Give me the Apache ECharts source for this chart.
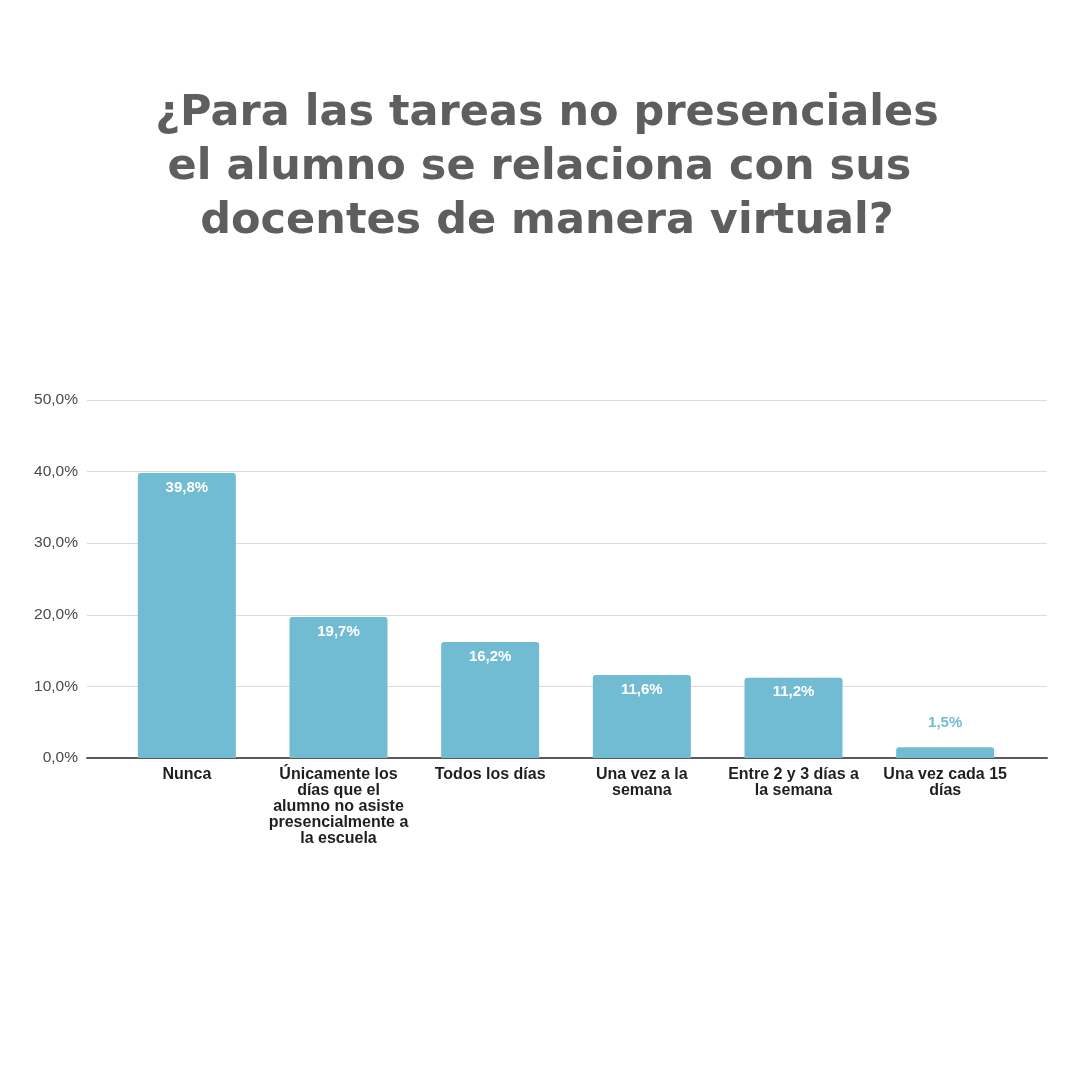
<!DOCTYPE html>
<html><head><meta charset="utf-8">
<script src="https://cdn.jsdelivr.net/npm/echarts@6/dist/echarts.min.js"></script>
<style>html,body{margin:0;padding:0;background:#fff}#c{width:1080px;height:1080px}</style>
</head><body><div id="c"></div>
<script>
const titleText = "¿Para las tareas no presenciales\nel alumno se relaciona con sus \ndocentes de manera virtual?";
const categories = [
  "Nunca",
  "Únicamente los\ndías que el\nalumno no asiste\npresencialmente a\nla escuela",
  "Todos los días",
  "Una vez a la\nsemana",
  "Entre 2 y 3 días a\nla semana",
  "Una vez cada 15\ndías"
];
const values = [39.8, 19.7, 16.2, 11.6, 11.2, 1.5];
const yMin = 0, yMax = 50, yStep = 10;

const barColor = '#72bcd3';
const fmt = v => v.toFixed(1).replace('.', ',') + '%';

const seriesData = values.map(v => {
  const small = v < 4;
  return {
    value: v,
    label: small
      ? { position: 'top', distance: 17, color: barColor }
      : { position: 'insideTop', distance: 7, color: '#ffffff' }
  };
});

const chart = echarts.init(document.getElementById('c'), null, {renderer: 'canvas'});
chart.setOption({
  backgroundColor: '#ffffff',
  animation: false,
  title: {
    text: titleText,
    left: 542, top: 82, textAlign: 'center',
    textStyle: { fontFamily: 'DejaVu Sans, sans-serif', fontWeight: 'bold', fontSize: 43, lineHeight: 54, color: '#5e5e5e' }
  },
  grid: [
    { left: 87, right: 33, top: 400, bottom: 322 },
    { left: 111, right: 59, top: 400, bottom: 322 }
  ],
  xAxis: [
    { gridIndex: 0, type: 'value', min: 0, max: 1, axisLine: { show: true, onZero: false, lineStyle: { color: '#5a5a5a', width: 2 } },
      axisTick: { show: false }, axisLabel: { show: false }, splitLine: { show: false } },
    { gridIndex: 1, type: 'category', data: categories,
      axisLine: { show: false }, axisTick: { show: false },
      axisLabel: { interval: 0, margin: 9, color: '#1f1f1f', fontFamily: 'Liberation Sans, Arial, sans-serif', fontSize: 16, lineHeight: 16, fontWeight: 'bold' } }
  ],
  yAxis: [
    { gridIndex: 0, type: 'value', min: yMin, max: yMax, interval: yStep,
      axisLine: { show: false }, axisTick: { show: false },
      axisLabel: { formatter: v => fmt(v), color: '#4a4a4a', fontFamily: 'Liberation Sans, Arial, sans-serif', fontSize: 15.5, margin: 9 },
      splitLine: { lineStyle: { color: '#dcdcdc', width: 1 } } },
    { gridIndex: 1, type: 'value', min: yMin, max: yMax, interval: yStep, show: false, splitLine: { show: false } }
  ],
  series: [{
    type: 'bar', xAxisIndex: 1, yAxisIndex: 1,
    data: seriesData,
    barWidth: 98,
    itemStyle: { color: barColor, borderRadius: [3, 3, 0, 0] },
    label: { show: true, formatter: p => fmt(p.value), fontFamily: 'Liberation Sans, Arial, sans-serif', fontWeight: 'bold', fontSize: 15 },
    z: 3
  }]
});
</script></body></html>
